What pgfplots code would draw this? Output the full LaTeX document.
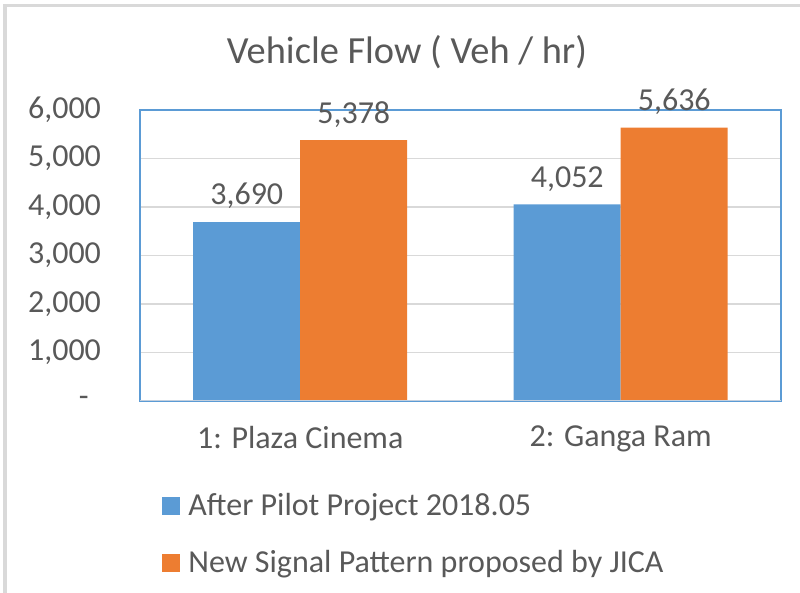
\documentclass[border=0pt]{standalone}
\usepackage{pgfplots}
\pgfplotsset{compat=1.18}
\usepackage{fontspec}
\setmainfont{Carlito}
\definecolor{cblue}{HTML}{5B9BD5}
\definecolor{corange}{HTML}{ED7D31}
\definecolor{ctext}{HTML}{595959}
\definecolor{cgrid}{HTML}{D9D9D9}
\definecolor{cbase}{HTML}{C3CFDD}
\begin{document}
\begin{tikzpicture}
\useasboundingbox (0,0) rectangle (400pt,296.5pt);
\draw[cgrid, line width=1.5pt] (2.5pt,0) -- (2.5pt,293.5pt) -- (400pt,293.5pt);
\begin{axis}[
  at={(70pt,96pt)}, anchor=south west,
  scale only axis, width=320.5pt, height=145.5pt,
  ybar=0pt, bar width=53.5pt,
  xmin=-0.5, xmax=1.5, ymin=0, ymax=6000,
  /pgf/number format/assume math mode=true,
  xtick={0,1}, xticklabels={\textnormal{1: Plaza Cinema}, \textnormal{2: Ganga Ram}},
  ytick={0,1000,2000,3000,4000,5000,6000},
  yticklabels={\textnormal{\makebox[11pt][l]{-}},\textnormal{1,000},\textnormal{2,000},\textnormal{3,000},\textnormal{4,000},\textnormal{5,000},\textnormal{6,000}},
  major tick length=0pt,
  ymajorgrids, grid style={cgrid, line width=0.8pt},
  axis line style={cblue, line width=0.8pt},
  tick label style={font=\fontsize{16}{19}\selectfont, text=ctext},
  yticklabel style={xshift=-16pt},
  xticklabel style={yshift=-9pt},
  title={Vehicle Flow ( Veh / hr)},
  title style={font=\fontsize{19.2}{23}\selectfont, text=ctext, at={(axis description cs:0.4165,1.158)}, anchor=center},
  nodes near coords,
  nodes near coords style={font=\fontsize{16}{19}\selectfont, text=ctext, yshift=3pt,
    /pgf/number format/fixed, /pgf/number format/precision=0,
    /pgf/number format/1000 sep={,}, /pgf/number format/assume math mode=true},
  legend style={at={(axis description cs:0.025,-0.29)}, anchor=north west, draw=none, font=\fontsize{16}{19}\selectfont, text=ctext, row sep=11.5pt,
    nodes={inner xsep=4pt}},
  legend image code/.code={\fill[#1] (0pt,-4.5pt) rectangle (9pt,4.5pt);},
  legend cell align=left,
]
\addplot[fill=cblue, draw=none] coordinates {(0,3690) (1,4052)};
\addplot[fill=corange, draw=none] coordinates {(0,5378) (1,5636)};
\legend{After Pilot Project 2018.05, New Signal Pattern proposed by JICA}
\draw[cbase, line width=1.2pt] (rel axis cs:0,0) -- (rel axis cs:1,0);
\end{axis}
\end{tikzpicture}
\end{document}
